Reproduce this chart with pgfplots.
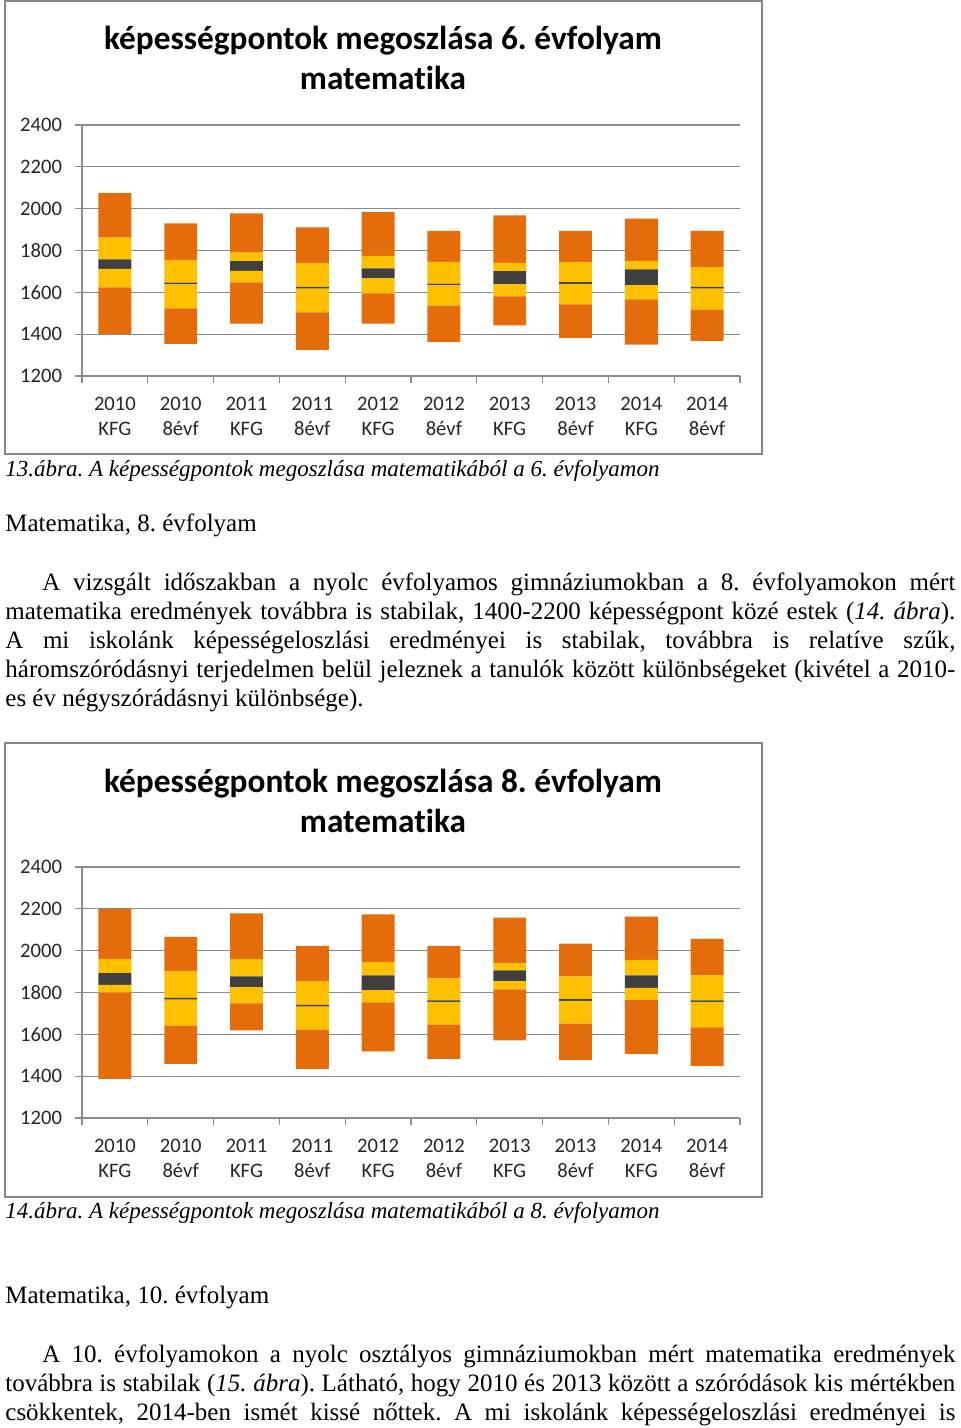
\documentclass[border=0pt]{standalone}
\usepackage{fontspec}
\setmainfont{Liberation Serif}
\newfontfamily\calibri[Ligatures=NoCommon]{Carlito}
\usepackage{pgfplots}
\pgfplotsset{compat=1.18}
\usepackage{pgfplotstable}

\definecolor{xorange}{HTML}{E46C0A}
\definecolor{xyellow}{HTML}{FFC000}
\definecolor{xdark}{HTML}{404040}
\definecolor{xgrid}{HTML}{8C8C8C}
\definecolor{xframe}{HTML}{868686}

% boundaries of segments: bottom, orange|yellow, yellow|dark, dark|yellow, yellow|orange, top
\pgfplotstableread{
x b0 b1 b2 b3 b4 b5
0 1400 1624 1712 1758 1862 2074
1 1354 1523 1638 1646 1755 1930
2 1451 1648 1702 1749 1790 1978
3 1325 1504 1618 1626 1741 1910
4 1451 1595 1667 1715 1774 1984
5 1363 1536 1634 1642 1746 1894
6 1442 1581 1638 1701 1741 1968
7 1382 1542 1641 1649 1746 1894
8 1350 1566 1634 1710 1750 1952
9 1368 1517 1618 1626 1720 1894
}\hatodik

\pgfplotstableread{
x b0 b1 b2 b3 b4 b5
0 1387 1800 1836 1893 1960 2200
1 1459 1641 1766 1774 1903 2066
2 1619 1748 1826 1877 1960 2178
3 1435 1622 1733 1741 1855 2023
4 1518 1753 1812 1882 1946 2173
5 1483 1647 1755 1763 1868 2023
6 1571 1815 1855 1906 1941 2158
7 1478 1651 1760 1768 1877 2034
8 1507 1764 1822 1882 1956 2163
9 1449 1633 1755 1763 1882 2056
}\nyolcadik

\pgfplotsset{
  kepstyle/.style={
    scale only axis, width=329pt, height=125.5pt,
    xmin=-0.5, xmax=9.5, ymin=1200, ymax=2400,
    ybar stacked, bar width=0.5,
    axis lines*=left,
    axis line style={xgrid, line width=0.6pt},
    tick style={xgrid, line width=0.6pt},
    tick align=outside, major tick length=3.5pt,
    ytick={1200,1400,1600,1800,2000,2200,2400},
    yticklabels={1200,1400,1600,1800,2000,2200,2400},
    scaled y ticks=false,
    xtick={-0.5,0.5,...,9.5},
    x tick label as interval,
    xticklabels={{2010\\KFG},{2010\\8évf},{2011\\KFG},{2011\\8évf},{2012\\KFG},{2012\\8évf},{2013\\KFG},{2013\\8évf},{2014\\KFG},{2014\\8évf}},
    xticklabel style={font=\calibri\fontsize{10.3}{12.5}\selectfont, align=center, text=black!85, yshift=-3.5pt},
    yticklabel style={font=\calibri\fontsize{10.3}{12.5}\selectfont, text=black!85, xshift=-3pt},
    ymajorgrids, grid style={xgrid, line width=0.6pt},
    every axis plot/.append style={draw=none},
    clip=false,
  }
}

\newcommand{\segs}[1]{%
  \addplot[fill=none, draw=none] table[x=x, y=b0] {#1};
  \addplot[fill=xorange] table[x=x, y expr=\thisrow{b1}-\thisrow{b0}] {#1};
  \addplot[fill=xyellow] table[x=x, y expr=\thisrow{b2}-\thisrow{b1}] {#1};
  \addplot[fill=xdark] table[x=x, y expr=\thisrow{b3}-\thisrow{b2}] {#1};
  \addplot[fill=xyellow] table[x=x, y expr=\thisrow{b4}-\thisrow{b3}] {#1};
  \addplot[fill=xorange] table[x=x, y expr=\thisrow{b5}-\thisrow{b4}] {#1};
}

\begin{document}
\frenchspacing
\begin{tikzpicture}
\path[use as bounding box] (0pt,0pt) rectangle (480pt,-714pt);

% ---------- chart 1 ----------
\draw[xframe, line width=1pt] (2.5pt,-0.5pt) rectangle (381pt,-227pt);
\node[anchor=base, inner sep=0pt, font=\calibri\bfseries\fontsize{16.65}{20}\selectfont] at (191.5pt,-25pt) {képességpontok megoszlása 6. évfolyam};
\node[anchor=base, inner sep=0pt, font=\calibri\bfseries\fontsize{16.65}{20}\selectfont] at (191.5pt,-45pt) {matematika};
\begin{axis}[kepstyle, at={(41pt,-188pt)}, anchor=south west]
\segs{\hatodik}
\end{axis}

% ---------- text ----------
\begin{scope}[every node/.style={anchor=base west, inner sep=0pt, font=\fontsize{12.5}{14.5}\selectfont}]
\node[font=\fontsize{11.5}{14}\selectfont\itshape] at (2.5pt,-238pt) {13.ábra. A képességpontok megoszlása matematikából a 6. évfolyamon};
\node at (2.5pt,-265.5pt) {Matematika, 8. évfolyam};
\node at (21pt,-295pt) {\makebox[456.5pt][s]{A vizsgált időszakban a nyolc évfolyamos gimnáziumokban a 8. évfolyamokon mért}};
\node at (2.5pt,-309.5pt) {\makebox[475pt][s]{matematika eredmények továbbra is stabilak, 1400-2200 képességpont közé estek (\textit{14. ábra}).}};
\node at (2.5pt,-324pt) {\makebox[475pt][s]{A mi iskolánk képességeloszlási eredményei is stabilak, továbbra is relatíve szűk,}};
\node at (2.5pt,-338.5pt) {\makebox[475pt][s]{háromszóródásnyi terjedelmen belül jeleznek a tanulók között különbségeket (kivétel a 2010-}};
\node at (2.5pt,-353pt) {es év négyszórádásnyi különbsége).};
\end{scope}

% ---------- chart 2 ----------
\draw[xframe, line width=1pt] (2.5pt,-371.5pt) rectangle (381pt,-598.5pt);
\node[anchor=base, inner sep=0pt, font=\calibri\bfseries\fontsize{16.65}{20}\selectfont] at (191.5pt,-396pt) {képességpontok megoszlása 8. évfolyam};
\node[anchor=base, inner sep=0pt, font=\calibri\bfseries\fontsize{16.65}{20}\selectfont] at (191.5pt,-416pt) {matematika};
\begin{axis}[kepstyle, at={(41pt,-559pt)}, anchor=south west]
\segs{\nyolcadik}
\end{axis}

\begin{scope}[every node/.style={anchor=base west, inner sep=0pt, font=\fontsize{12.5}{14.5}\selectfont}]
\node[font=\fontsize{11.5}{14}\selectfont\itshape] at (2.5pt,-609pt) {14.ábra. A képességpontok megoszlása matematikából a 8. évfolyamon};
\node at (2.5pt,-651.5pt) {Matematika, 10. évfolyam};
\node at (21pt,-681pt) {\makebox[456.5pt][s]{A 10. évfolyamokon a nyolc osztályos gimnáziumokban mért matematika eredmények}};
\node at (2.5pt,-695.5pt) {\makebox[475pt][s]{továbbra is stabilak (\textit{15. ábra}). Látható, hogy 2010 és 2013 között a szóródások kis mértékben}};
\node at (2.5pt,-710pt) {\makebox[475pt][s]{csökkentek, 2014-ben ismét kissé nőttek. A mi iskolánk képességeloszlási eredményei is}};
\end{scope}
\end{tikzpicture}
\end{document}
